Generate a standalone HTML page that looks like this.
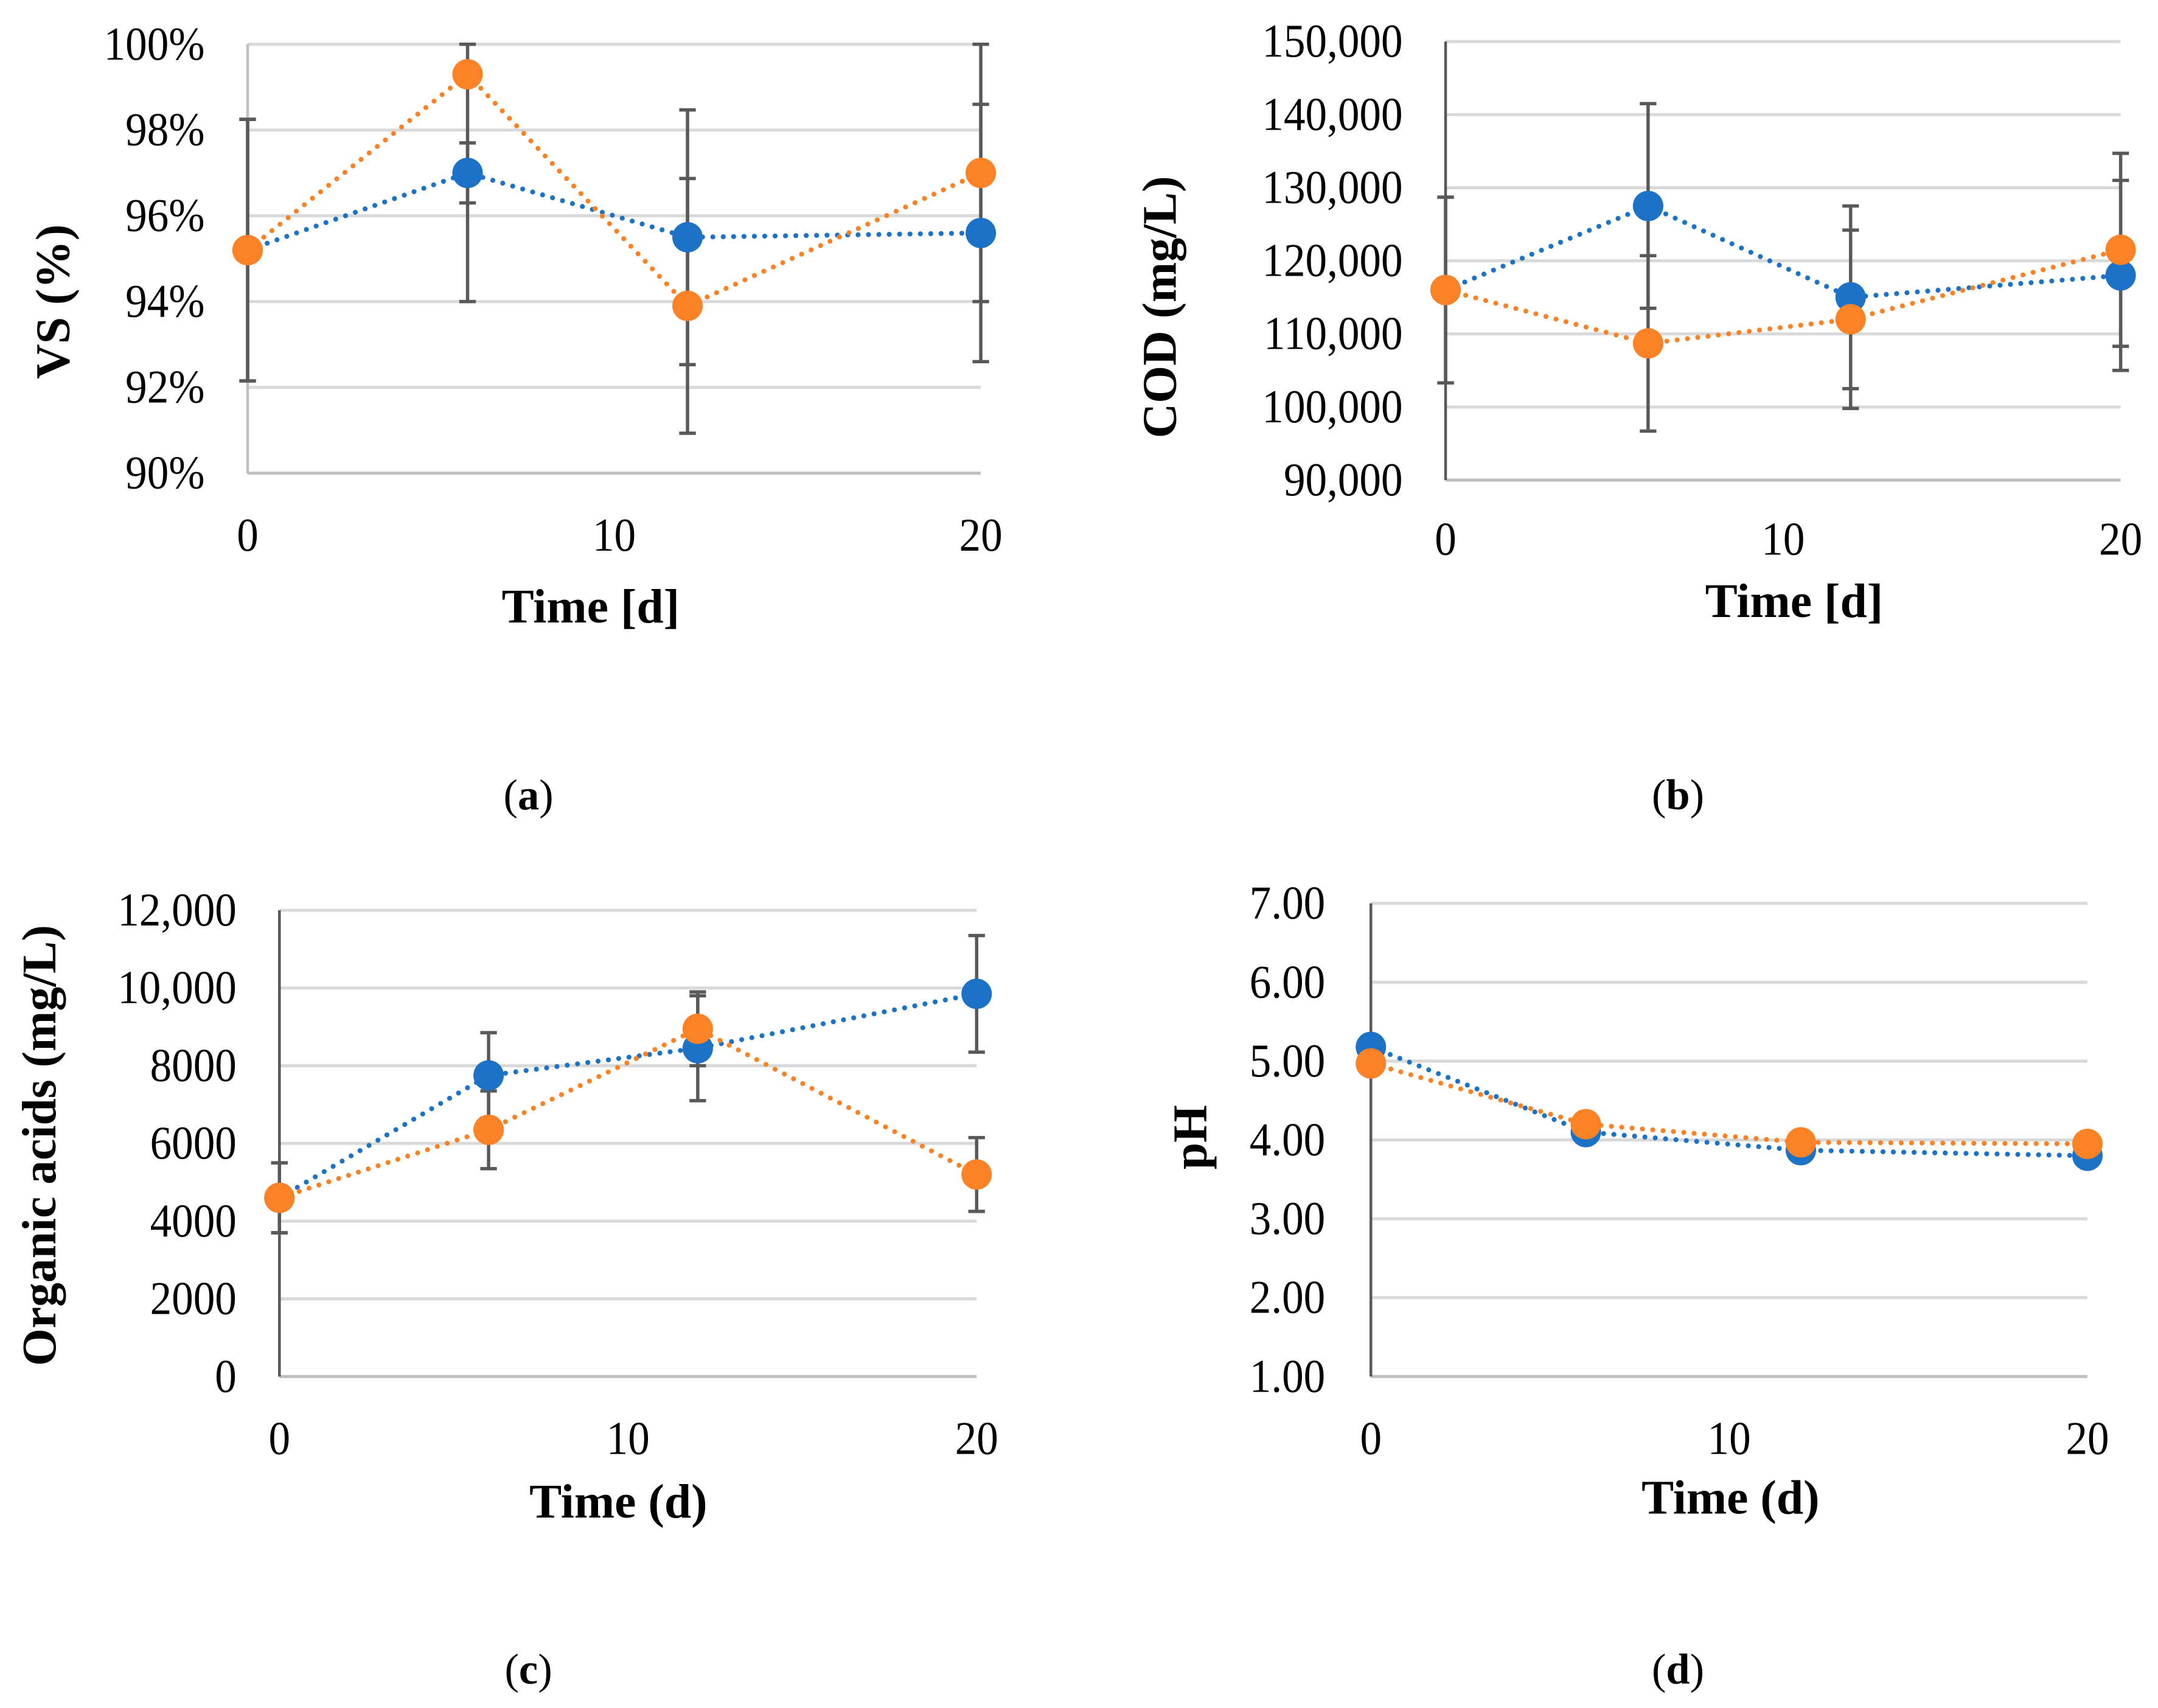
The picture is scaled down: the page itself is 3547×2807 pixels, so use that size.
<!DOCTYPE html>
<html><head><meta charset="utf-8"><style>html,body{margin:0;padding:0;background:#fff}svg{display:block}</style></head>
<body>
<svg id="fig" width="3547" height="2807" viewBox="0 0 1560 1234.6" preserveAspectRatio="none" xmlns="http://www.w3.org/2000/svg" font-family="'Liberation Serif', serif"></svg>
<script>
const days = [0, 6, 12, 20];
const vsBlue = [95.2, 97.0, 95.5, 95.6];
const vsOrange = [95.2, 99.3, 93.9, 97.0];
const vsBlueErr = [3.05, 0.7, 2.97, 3.0];
const vsOrangeErr = [3.05, 5.3, 2.97, 3.0];
const vsTicks = [90, 92, 94, 96, 98, 100];
const vsTickLabels = ["90%", "92%", "94%", "96%", "98%", "100%"];
const codBlue = [116000, 127500, 115000, 118000];
const codOrange = [116000, 108700, 112000, 121500];
const codBlueErr = [12700, 14000, 12500, 13000];
const codOrangeErr = [12700, 12000, 12200, 13200];
const codTicks = [90000, 100000, 110000, 120000, 130000, 140000, 150000];
const codTickLabels = ["90,000", "100,000", "110,000", "120,000", "130,000", "140,000", "150,000"];
const oaBlue = [4600, 7750, 8450, 9850];
const oaOrange = [4600, 6350, 8950, 5200];
const oaBlueErr = [900, 1100, 1350, 1500];
const oaOrangeErr = [900, 1000, 950, 950];
const oaTicks = [0, 2000, 4000, 6000, 8000, 10000, 12000];
const oaTickLabels = ["0", "2000", "4000", "6000", "8000", "10,000", "12,000"];
const phBlue = [5.18, 4.1, 3.87, 3.8];
const phOrange = [4.97, 4.2, 3.97, 3.95];
const phTicks = [1, 2, 3, 4, 5, 6, 7];
const phTickLabels = ["1.00", "2.00", "3.00", "4.00", "5.00", "6.00", "7.00"];
const xTicks = [0, 10, 20];

const NS = "http://www.w3.org/2000/svg";
const svg = document.getElementById('fig');
function mk(tag, attrs, parent, text) {
  const e = document.createElementNS(NS, tag);
  for (const k in attrs) e.setAttribute(k, attrs[k]);
  if (text !== undefined) e.textContent = text;
  parent.appendChild(e);
  return e;
}
const BLUE = "#1b72c6", ORANGE = "#fd8226";

function panel(p) {
  const g = mk('g', {}, svg);
  
  
  const ymin = p.ticks[0], ymax = p.ticks[p.ticks.length - 1];
  const sx = v => p.x0 + (v / 20) * (p.x1 - p.x0);
  const sy = v => p.yb + (v - ymin) / (ymax - ymin) * (p.yt - p.yb);
  p.ticks.forEach((t, i) => {
    const gl = mk('line', {x1: p.x0, x2: p.x1, y1: sy(t), y2: sy(t), stroke: i === 0 ? "#bfbfbf" : "#d9d9d9", 'stroke-width': 2.2}, g);
    
    
    const tl = mk('text', {x: 0, y: 0, 'text-anchor': 'end', 'font-size': 34, fill: '#000', transform: `translate(${p.lx},${sy(t) + 11}) scale(0.92,1)`}, g, p.labels[i]);
    
    
  });
  const ax = mk('line', {x1: p.x0, x2: p.x0, y1: p.yt, y2: p.yb, stroke: p.axisColor, 'stroke-width': 2}, g);
  
  
  xTicks.forEach(t => {
    const xl = mk('text', {x: 0, y: 0, 'text-anchor': 'middle', 'font-size': 34, transform: `translate(${sx(t)},${p.xly}) scale(0.92,1)`}, g, String(t));
    
    
  });
  const xt = mk('text', {x: p.xtx, y: p.xty, 'text-anchor': 'middle', 'font-size': 35, 'font-weight': 'bold'}, g, p.xtitle);
  
  
  const yt = mk('text', {x: 0, y: 0, 'text-anchor': 'middle', 'font-size': 35, 'font-weight': 'bold', transform: `translate(${p.ytx},${p.yty}) rotate(-90)`}, g, p.ytitle);
  
  
  const cap = mk('text', {x: p.capx, y: p.capy, 'text-anchor': 'middle', 'font-size': 31}, g);
  
  
  mk('tspan', {}, cap, '(');
  mk('tspan', {'font-weight': 'bold'}, cap, p.cap);
  mk('tspan', {}, cap, ')');

  const series = [[p.blue, p.blueErr, BLUE, 'blue'], [p.orange, p.orangeErr, ORANGE, 'orange']];
  series.forEach(([vals, errs]) => {
    if (!errs) return;
    vals.forEach((v, i) => {
      const hi = Math.min(v + errs[i], ymax), lo = Math.max(v - errs[i], ymin);
      const x = sx(days[i]);
      const eb = mk('path', {d: `M${x},${sy(hi)}V${sy(lo)}M${x-6},${sy(hi)}H${x+6}M${x-6},${sy(lo)}H${x+6}`, stroke: '#595959', 'stroke-width': 2.4, fill: 'none'}, g);
      
      
    });
  });
  series.forEach(([vals, errs, col, nm]) => {
    const d = vals.map((v, i) => (i ? 'L' : 'M') + sx(days[i]) + ',' + sy(v)).join('');
    const ln = mk('path', {d, stroke: col, 'stroke-width': 3.6, fill: 'none', 'stroke-dasharray': '0 7.5', 'stroke-linecap': 'round'}, g);
    
    
  });
  series.forEach(([vals, errs, col, nm]) => {
    vals.forEach((v, i) => {
      const c = mk('circle', {cx: sx(days[i]), cy: sy(v), r: 11, fill: col}, g);
      
      
    });
  });
}

panel({name: 'panel-a-vs', x0: 179, x1: 709, yb: 342, yt: 32, ticks: vsTicks, labels: vsTickLabels, lx: 148, axisColor: '#bfbfbf',
  blue: vsBlue, orange: vsOrange, blueErr: vsBlueErr, orangeErr: vsOrangeErr,
  xly: 398, xtitle: 'Time [d]', xtx: 427, xty: 450, ytitle: 'VS  (%)', ytx: 50, yty: 218, cap: 'a', capx: 382, capy: 585});
panel({name: 'panel-b-cod', x0: 1045, x1: 1533, yb: 347, yt: 30, ticks: codTicks, labels: codTickLabels, lx: 1014, axisColor: '#595959',
  blue: codBlue, orange: codOrange, blueErr: codBlueErr, orangeErr: codOrangeErr,
  xly: 401, xtitle: 'Time [d]', xtx: 1297, xty: 446, ytitle: 'COD (mg/L)', ytx: 850, yty: 222, cap: 'b', capx: 1213, capy: 585});
panel({name: 'panel-c-organic-acids', x0: 202, x1: 706, yb: 995, yt: 658, ticks: oaTicks, labels: oaTickLabels, lx: 171, axisColor: '#595959',
  blue: oaBlue, orange: oaOrange, blueErr: oaBlueErr, orangeErr: oaOrangeErr,
  xly: 1051, xtitle: 'Time (d)', xtx: 447, xty: 1097, ytitle: 'Organic acids (mg/L)', ytx: 40, yty: 828, cap: 'c', capx: 382, capy: 1217});
panel({name: 'panel-d-ph', x0: 991, x1: 1509, yb: 995, yt: 653, ticks: phTicks, labels: phTickLabels, lx: 958, axisColor: '#595959',
  blue: phBlue, orange: phOrange, blueErr: null, orangeErr: null,
  xly: 1051, xtitle: 'Time (d)', xtx: 1251, xty: 1094, ytitle: 'pH', ytx: 872, yty: 822, cap: 'd', capx: 1213, capy: 1217});
</script>
</body></html>
